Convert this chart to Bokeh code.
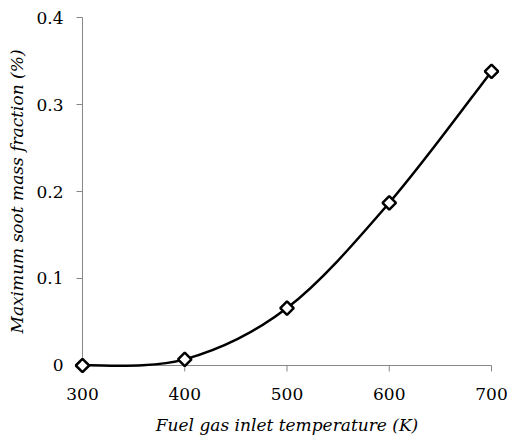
import numpy as np
from bokeh.plotting import figure
from bokeh.models import Range1d, FixedTicker
from bokeh.embed import file_html
from bokeh.resources import INLINE

temperature = [300, 400, 500, 600, 700]
soot_fraction = [0.0, 0.007, 0.066, 0.187, 0.338]
x_ticks = [300, 400, 500, 600, 700]
y_ticks = [0, 0.1, 0.2, 0.3, 0.4]
y_tick_labels = {0: "0", 0.1: "0.1", 0.2: "0.2", 0.3: "0.3", 0.4: "0.4"}
x_min, x_max = 300, 700
y_min, y_max = 0, 0.4

FONT = "DejaVu Serif"
AXIS_COLOR = "#868686"

p = figure(width=508, height=437, output_backend="svg", toolbar_location=None,
           x_range=Range1d(292.2, 707.8), y_range=Range1d(-0.0092, 0.4092),
           min_border_left=74, min_border_right=9, min_border_top=9, min_border_bottom=63)
p.outline_line_color = None
p.grid.visible = False
p.background_fill_color = "white"
p.border_fill_color = "white"

# axis lines and outward ticks at x=300 and y=0
p.segment(x0=[x_min, x_min], y0=[y_min, y_min], x1=[x_max, x_min], y1=[y_min, y_max],
          line_color=AXIS_COLOR, line_width=1)
p.ray(x=x_ticks, y=[y_min] * len(x_ticks), length=6, length_units="screen",
      angle=-np.pi / 2, line_color=AXIS_COLOR, line_width=1)
p.ray(x=[x_min] * len(y_ticks), y=y_ticks, length=6, length_units="screen",
      angle=np.pi, line_color=AXIS_COLOR, line_width=1)

# Excel-style smoothed line (cubic Bezier segments through the points)
xs = np.array(temperature, dtype=float)
ys = np.array(soot_fraction, dtype=float)
n = len(xs)
x0, y0, x1, y1, cx0, cy0, cx1, cy1 = [], [], [], [], [], [], [], []
for i in range(n - 1):
    pm = i - 1 if i > 0 else i
    pp = i + 2 if i + 2 < n else i + 1
    x0.append(xs[i]); y0.append(ys[i]); x1.append(xs[i + 1]); y1.append(ys[i + 1])
    cx0.append(xs[i] + (xs[i + 1] - xs[pm]) / 6); cy0.append(ys[i] + (ys[i + 1] - ys[pm]) / 6)
    cx1.append(xs[i + 1] - (xs[pp] - xs[i]) / 6); cy1.append(ys[i + 1] - (ys[pp] - ys[i]) / 6)
p.bezier(x0=x0, y0=y0, x1=x1, y1=y1, cx0=cx0, cy0=cy0, cx1=cx1, cy1=cy1,
         line_color="black", line_width=2.5)

p.scatter(temperature, soot_fraction, marker="square", angle=np.pi / 4, size=9.5,
          fill_color="white", line_color="black", line_width=2.5)

for ax in (p.xaxis[0], p.yaxis[0]):
    ax.axis_line_color = None
    ax.major_tick_line_color = None
    ax.minor_tick_line_color = None
    ax.major_tick_in = 0
    ax.major_tick_out = 0
    ax.major_label_text_font = FONT
    ax.major_label_text_font_size = "17px"
    ax.major_label_text_color = "black"
    ax.axis_label_text_font = FONT
    ax.axis_label_text_font_size = "17px"
    ax.axis_label_text_font_style = "italic"
    ax.axis_label_text_color = "black"

p.xaxis.ticker = FixedTicker(ticks=x_ticks)
p.yaxis.ticker = FixedTicker(ticks=y_ticks)
p.yaxis.major_label_overrides = y_tick_labels
p.xaxis.axis_label = "Fuel gas inlet temperature (K)"
p.yaxis.axis_label = "Maximum soot mass fraction (%)"
p.xaxis.major_label_standoff = 14
p.yaxis.major_label_standoff = 11
p.xaxis.axis_label_standoff = 12
p.yaxis.axis_label_standoff = 6

open("out.html", "w").write(file_html(p, INLINE))
